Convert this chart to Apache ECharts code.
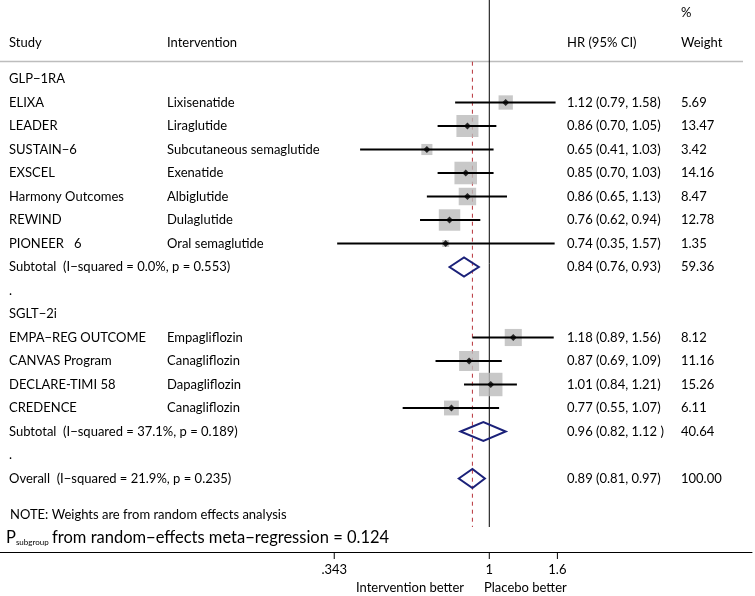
<!DOCTYPE html>
<html><head><meta charset="utf-8">
<script src="https://cdn.jsdelivr.net/npm/echarts@6/dist/echarts.min.js"></script>
<style>html,body{margin:0;padding:0;background:#fff}#c{width:755px;height:596px}</style>
</head><body><div id="c"></div>
<script>
// ---- data (rows top to bottom) ----
const rowLabels = ['GLP\u22121RA','ELIXA','LEADER','SUSTAIN\u22126','EXSCEL','Harmony Outcomes','REWIND','PIONEER   6',
  'Subtotal  (I\u2212squared = 0.0%, p = 0.553)','.','SGLT\u22122i','EMPA\u2212REG OUTCOME','CANVAS Program','DECLARE-TIMI 58','CREDENCE',
  'Subtotal  (I\u2212squared = 37.1%, p = 0.189)','.','Overall  (I\u2212squared = 21.9%, p = 0.235)'];
const rowKind = ['head','study','study','study','study','study','study','study','sub','dot','head','study','study','study','study','sub','dot','overall'];
const interventions = ['','Lixisenatide','Liraglutide','Subcutaneous semaglutide','Exenatide','Albiglutide','Dulaglutide','Oral semaglutide',
  '','','','Empagliflozin','Canagliflozin','Dapagliflozin','Canagliflozin','','',''];
const hr = [null,1.12,0.86,0.65,0.85,0.86,0.76,0.74,0.84,null,null,1.18,0.87,1.01,0.77,0.96,null,0.89];
const lo = [null,0.79,0.70,0.41,0.70,0.65,0.62,0.35,0.76,null,null,0.89,0.69,0.84,0.55,0.82,null,0.81];
const hi = [null,1.58,1.05,1.03,1.03,1.13,0.94,1.57,0.93,null,null,1.56,1.09,1.21,1.07,1.12,null,0.97];
const weights = [null,5.69,13.47,3.42,14.16,8.47,12.78,1.35,59.36,null,null,8.12,11.16,15.26,6.11,40.64,null,100.00];
const hrText = ['','1.12 (0.79, 1.58)','0.86 (0.70, 1.05)','0.65 (0.41, 1.03)','0.85 (0.70, 1.03)','0.86 (0.65, 1.13)','0.76 (0.62, 0.94)','0.74 (0.35, 1.57)',
  '0.84 (0.76, 0.93)','','','1.18 (0.89, 1.56)','0.87 (0.69, 1.09)','1.01 (0.84, 1.21)','0.77 (0.55, 1.07)','0.96 (0.82, 1.12 )','','0.89 (0.81, 0.97)'];
const weightText = ['','5.69','13.47','3.42','14.16','8.47','12.78','1.35','59.36','','','8.12','11.16','15.26','6.11','40.64','','100.00'];
const tickValues = [0.343, 1, 1.6];
const tickLabels = ['.343', '1', '1.6'];
const overallIdx = 17;

// ---- layout ----
const FONT = 'Lato';
const FS = 13;
const Y_MIN = -3.3617, Y_MAX = 20.1277;
const Y_LINE_END = 19.064, Y_HEADER = -0.736;

const studyIdx = rowKind.map((k,i)=>k==='study'?i:-1).filter(i=>i>=0);
const diaIdx = rowKind.map((k,i)=>(k==='sub'||k==='overall')?i:-1).filter(i=>i>=0);

const chart = echarts.init(document.getElementById('c'), null, {renderer:'canvas'});
const txt = (x, y, text, extra) => ({type:'text', x, y, style:Object.assign({text, fontFamily:FONT, fontSize:FS, fill:'#000', verticalAlign:'middle', align:'left'}, extra||{})});

chart.setOption({
  animation:false,
  grid:{left:0, right:3, top:0, bottom:44},
  xAxis:{type:'log', min:0.03416, max:6.129, logBase:10,
    axisLine:{show:true, onZero:false, lineStyle:{color:'#000', width:1}},
    axisTick:{show:false}, axisLabel:{show:false}, splitLine:{show:false}},
  yAxis:{type:'value', inverse:true, min:Y_MIN, max:Y_MAX, show:false},
  graphic:[
    {type:'line', shape:{x1:0,y1:61.5,x2:743,y2:61.5}, style:{stroke:'#bdbdbd', lineWidth:1.5}},
    txt(9,43,'Study'), txt(167,43,'Intervention'), txt(567,43,'HR (95% CI)'),
    txt(681,13,'%'), txt(681,43,'Weight'),
    txt(10,515,'NOTE: Weights are from random effects analysis'),
    {type:'text', x:6, y:538, style:{
      text:'{p|P}{s|subgroup} {b|from random\u2212effects meta\u2212regression = 0.124}',
      verticalAlign:'middle', rich:{
        p:{fontFamily:FONT, fontSize:16.5, fill:'#000'},
        s:{fontFamily:FONT, fontSize:8, fill:'#000', verticalAlign:'bottom', padding:[6,0,0,0]},
        b:{fontFamily:FONT, fontSize:16.5, fill:'#000'}}}},
    txt(464,588,'Intervention better',{align:'right'}),
    txt(484,588,'Placebo better')
  ],
  series:[
    // null line at HR = 1
    {type:'line', data:[[1,Y_MIN],[1,Y_LINE_END]], symbol:'none', lineStyle:{color:'#000', width:1}, silent:true, z:1},
    // overall estimate dashed line
    {type:'line', data:[[hr[overallIdx],Y_HEADER],[hr[overallIdx],Y_LINE_END]], symbol:'none', lineStyle:{color:'#b8333b', width:1, type:[4,4]}, silent:true, z:1},
    // weight boxes
    {type:'scatter', symbol:'rect', data:studyIdx.map(i=>[hr[i], i, weights[i]]),
      symbolSize:v=>6*Math.sqrt(v[2]), itemStyle:{color:'#bababa'}, z:2},
    // CI lines
    {type:'custom', data:studyIdx.map(i=>[hr[i], i, lo[i], hi[i]]), z:3,
      renderItem:(p,api)=>{
        const a = api.coord([api.value(2), api.value(1)]);
        const b = api.coord([api.value(3), api.value(1)]);
        return {type:'line', shape:{x1:a[0],y1:a[1],x2:b[0],y2:b[1]}, style:{stroke:'#000', lineWidth:2}};
      }},
    // point estimates
    {type:'scatter', symbol:'diamond', symbolSize:7, data:studyIdx.map(i=>[hr[i], i]), itemStyle:{color:'#000'}, z:4},
    // pooled diamonds
    {type:'custom', data:diaIdx.map(i=>[hr[i], i, lo[i], hi[i]]), z:4,
      renderItem:(p,api)=>{
        const c = api.coord([api.value(0), api.value(1)]);
        const l = api.coord([api.value(2), api.value(1)]);
        const h = api.coord([api.value(3), api.value(1)]);
        return {type:'polygon', shape:{points:[[l[0],c[1]],[c[0],c[1]-9.5],[h[0],c[1]],[c[0],c[1]+9.5]]},
          style:{fill:'none', stroke:'#1b2179', lineWidth:2}};
      }},
    // table text columns
    {type:'custom', data:rowLabels.map((_,i)=>[1,i]), z:5,
      renderItem:(p,api)=>{
        const i = p.dataIndex;
        const y = api.coord([1, api.value(1)])[1];
        const ch = [txt(9, y, rowLabels[i])];
        if (interventions[i]) ch.push(txt(167, y, interventions[i]));
        if (hrText[i]) ch.push(txt(567, y, hrText[i]));
        if (weightText[i]) ch.push(txt(681, y, weightText[i]));
        return {type:'group', children:ch};
      }},
    // axis ticks and labels
    {type:'custom', data:tickValues.map((v,i)=>[v, Y_MAX]), z:5,
      renderItem:(p,api)=>{
        const c = api.coord([api.value(0), api.value(1)]);
        return {type:'group', children:[
          {type:'line', shape:{x1:c[0],y1:c[1],x2:c[0],y2:c[1]+7}, style:{stroke:'#000', lineWidth:1}},
          txt(c[0], c[1]+18, tickLabels[p.dataIndex], {align:'center'})
        ]};
      }}
  ]
});
</script></body></html>
